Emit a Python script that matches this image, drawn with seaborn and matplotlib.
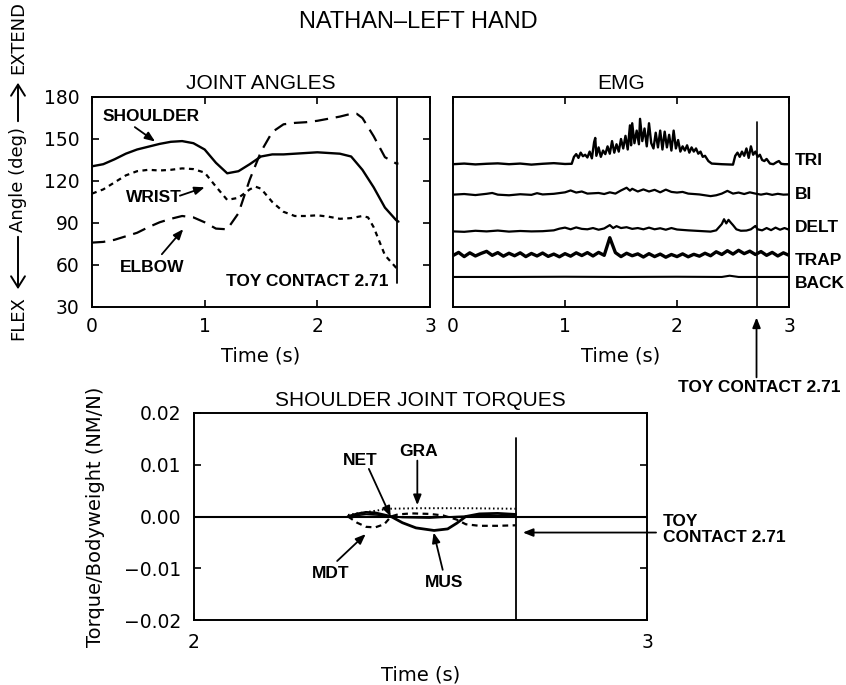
import numpy as np
import pandas as pd
import matplotlib
matplotlib.use("Agg")
import matplotlib.pyplot as plt
import seaborn as sns

# ---------------- joint angles (deg) ----------------
shoulder_time = [0.0, 0.1, 0.2, 0.3, 0.4, 0.5, 0.6, 0.7, 0.8, 0.9, 1.0, 1.1, 1.2, 1.3,
                 1.4, 1.5, 1.6, 1.7, 1.8, 1.9, 2.0, 2.1, 2.2, 2.3, 2.4, 2.5, 2.6, 2.7, 2.72]
shoulder_deg = [130.5, 132, 135.5, 139.5, 142.5, 144.5, 146.5, 148, 148.5, 147, 142.5, 133,
                125.5, 127, 132, 137.5, 139, 139, 139.5, 140, 140.5, 140, 139.5, 137.5, 128,
                115.5, 101, 92, 91]

wrist_time = [0.0, 0.1, 0.2, 0.3, 0.4, 0.5, 0.6, 0.7, 0.8, 0.9, 1.0, 1.1, 1.2, 1.3, 1.4,
              1.45, 1.5, 1.6, 1.7, 1.8, 1.9, 2.0, 2.1, 2.2, 2.3, 2.4, 2.45, 2.5, 2.6, 2.7, 2.72]
wrist_deg = [111, 114, 119, 124, 127, 128, 127.5, 128, 129, 128.5, 126, 116, 106.5, 108, 114,
             116, 114.5, 105, 98, 95, 95, 95.5, 94.5, 93, 93.5, 95, 94, 87, 67, 58, 57]

elbow_time = [0.0, 0.1, 0.2, 0.3, 0.4, 0.5, 0.6, 0.7, 0.8, 0.9, 1.0, 1.1, 1.2, 1.3, 1.4,
              1.5, 1.6, 1.7, 1.8, 1.9, 2.0, 2.1, 2.2, 2.3, 2.35, 2.4, 2.5, 2.6, 2.7, 2.72]
elbow_deg = [76, 76.5, 78, 80.5, 83, 87, 90.5, 93, 95, 94, 90.5, 86, 85.5, 97, 121, 141, 155,
             160.5, 161.5, 162, 163, 164.5, 166, 168, 168, 165, 152, 137, 132.5, 132.5]

toy_contact = 2.71

# ---------------- EMG traces (arbitrary offset units) ----------------
tri_time = [0.0, 0.1, 0.2, 0.3, 0.4, 0.5, 0.6, 0.7, 0.8, 0.9, 1.0, 1.06, 1.08, 1.10, 1.12,
            1.14, 1.16, 1.18, 1.20, 1.22, 1.24, 1.26, 1.27, 1.28, 1.30, 1.32, 1.34, 1.36,
            1.38, 1.40, 1.42, 1.44, 1.46, 1.48, 1.50, 1.52, 1.54, 1.56, 1.58, 1.59, 1.60,
            1.62, 1.64, 1.66, 1.67, 1.69, 1.71, 1.73, 1.75, 1.77, 1.79, 1.81, 1.83, 1.85,
            1.87, 1.89, 1.91, 1.93, 1.95, 1.97, 1.99, 2.01, 2.03, 2.05, 2.07, 2.09, 2.11,
            2.13, 2.15, 2.17, 2.19, 2.21, 2.23, 2.25, 2.28, 2.31, 2.4, 2.5, 2.52, 2.54,
            2.56, 2.58, 2.60, 2.62, 2.64, 2.66, 2.68, 2.70, 2.72, 2.74, 2.76, 2.78, 2.80,
            2.83, 2.86, 2.89, 2.91, 2.93, 2.96, 3.0]
tri_amp = [68.0, 68.3, 67.9, 68.2, 68.4, 68.0, 68.3, 67.8, 68.2, 68.5, 68.1, 68.2, 71.5, 72.8,
           71.0, 73.5, 71.8, 72.5, 71.2, 74.0, 70.8, 78.5, 80.5, 72.0, 76.0, 71.5, 74.5, 72.8,
           76.5, 73.0, 79.0, 73.5, 77.5, 74.0, 80.0, 75.5, 81.5, 75.0, 86.5, 77.0, 87.5,
           78.0, 84.0, 77.5, 89.6, 79.0, 85.0, 76.5, 87.5, 78.0, 75.5, 83.0, 76.0, 84.0,
           75.0, 83.5, 76.0, 82.0, 74.5, 84.0, 75.5, 79.5, 74.0, 76.5, 74.5, 77.0, 73.5,
           76.0, 74.0, 75.5, 73.0, 74.0, 71.5, 72.0, 69.5, 68.3, 68.0, 67.8, 72.0, 73.5,
           71.5, 74.0, 72.0, 75.5, 71.0, 76.5, 72.5, 74.0, 71.5, 72.5, 70.0, 69.5, 70.5,
           68.3, 68.0, 69.0, 69.5, 68.2, 68.0, 68.0]

bi_time = [0.0, 0.1, 0.2, 0.3, 0.35, 0.4, 0.5, 0.6, 0.7, 0.75, 0.8, 0.9, 1.0, 1.05, 1.1,
           1.15, 1.2, 1.3, 1.35, 1.4, 1.45, 1.5, 1.55, 1.58, 1.6, 1.65, 1.7, 1.75, 1.8,
           1.85, 1.9, 1.95, 2.0, 2.05, 2.1, 2.2, 2.3, 2.35, 2.4, 2.45, 2.5, 2.55, 2.6, 2.65,
           2.7, 2.75, 2.8, 2.85, 2.9, 2.95, 3.0]
bi_amp = [53.5, 53.8, 53.3, 53.9, 54.3, 53.5, 53.2, 53.7, 53.4, 54.2, 53.6, 53.9, 54.6, 55.5,
          54.5, 55.0, 54.0, 54.3, 53.8, 54.6, 54.0, 55.5, 56.8, 55.4, 56.3, 55.0, 56.0, 55.0,
          55.8, 54.6, 55.9, 54.8, 54.5, 54.8, 54.0, 53.6, 52.8, 53.2, 54.0, 55.3, 54.0, 54.5,
          53.8, 54.6, 54.0, 53.5, 54.0, 53.4, 53.9, 53.5, 53.6]

delt_time = [0.0, 0.1, 0.2, 0.3, 0.4, 0.5, 0.6, 0.7, 0.8, 0.9, 0.95, 1.0, 1.05, 1.1, 1.15,
             1.2, 1.25, 1.3, 1.35, 1.4, 1.43, 1.46, 1.5, 1.55, 1.6, 1.65, 1.7, 1.75, 1.8,
             1.85, 1.9, 1.95, 2.0, 2.1, 2.2, 2.3, 2.35, 2.4, 2.42, 2.44, 2.46, 2.48, 2.5,
             2.53, 2.57, 2.62, 2.66, 2.7, 2.72, 2.76, 2.8, 2.84, 2.88, 2.92, 2.96, 3.0]
delt_amp = [36.0, 35.8, 36.3, 36.0, 36.4, 35.9, 36.2, 36.0, 36.1, 36.5, 37.3, 37.8, 37.0,
            37.9, 37.2, 37.0, 37.6, 36.8, 37.4, 39.0, 37.6, 38.5, 37.6, 38.0, 37.2, 37.6,
            37.0, 37.8, 37.0, 37.5, 36.8, 37.6, 36.9, 36.5, 36.2, 35.9, 36.5, 39.5, 41.8,
            39.8, 41.5, 40.2, 39.0, 37.0, 36.3, 36.4, 37.0, 38.6, 37.0, 36.5, 37.6, 36.6,
            37.8, 36.8, 37.6, 36.8]

trap_time = list(np.round(np.linspace(0.0, 3.0, 61), 2))
trap_amp = [24.5, 26.0, 24.0, 25.8, 24.3, 25.5, 26.5, 24.6, 25.9, 24.2, 25.6, 24.4, 25.8,
            24.0, 25.5, 24.3, 25.7, 24.1, 25.2, 23.9, 25.4, 24.2, 25.8, 24.5, 25.9, 24.3,
            26.0, 24.6, 33.0, 25.9, 24.0, 25.6, 24.4, 25.3, 23.8, 25.4, 24.0, 25.2, 23.7,
            25.0, 24.0, 25.3, 23.9, 25.1, 24.2, 25.6, 24.4, 26.3, 25.0, 26.8, 25.2, 27.0,
            25.4, 26.6, 25.0, 26.4, 24.6, 26.0, 24.3, 25.8, 24.6]

back_time = [0.0, 0.5, 1.0, 1.5, 2.0, 2.4, 2.47, 2.55, 3.0]
back_amp = [14.3, 14.3, 14.4, 14.3, 14.4, 14.3, 14.9, 14.3, 14.3]

emg_channels = ["TRI", "BI", "DELT", "TRAP", "BACK"]
emg_label_y = [69.7, 53.8, 37.9, 22.0, 11.3]

# ---------------- shoulder joint torques (NM/N) ----------------
gra_time = [2.34, 2.36, 2.40, 2.43, 2.50, 2.60, 2.71]
gra_torque = [0.0003, 0.0006, 0.0011, 0.0015, 0.0016, 0.0016, 0.0015]

mdt_time = [2.34, 2.36, 2.38, 2.40, 2.42, 2.435, 2.45, 2.48, 2.52, 2.55, 2.58, 2.60,
            2.63, 2.67, 2.71]
mdt_torque = [0.0, -0.0012, -0.0020, -0.0021, -0.0015, 0.0, 0.0004, 0.0006, 0.0005, 0.0002,
              -0.0006, -0.0015, -0.0018, -0.0018, -0.0017]

mus_time = [2.34, 2.36, 2.38, 2.40, 2.42, 2.435, 2.46, 2.49, 2.53, 2.56, 2.58, 2.60, 2.63,
            2.67, 2.71]
mus_torque = [0.0, 0.0005, 0.0008, 0.0007, 0.0003, 0.0, -0.0012, -0.0022, -0.0027, -0.0024,
              -0.0013, 0.0, 0.0005, 0.0006, 0.0004]

net_time = [2.34, 2.38, 2.42, 2.46, 2.52, 2.58, 2.64, 2.71]
net_torque = [0.0, 0.0004, 0.0002, -0.0002, -0.0003, 0.0, 0.0002, 0.0001]

# ---------------- styling ----------------
sns.set_theme(style="ticks")
plt.rcParams.update({
    "font.family": ["DejaVu Sans"],
    "axes.linewidth": 1.4,
    "axes.edgecolor": "black",
    "xtick.direction": "in",
    "ytick.direction": "in",
    "xtick.top": True,
    "ytick.right": True,
    "xtick.major.size": 5,
    "ytick.major.size": 5,
    "xtick.major.width": 1.2,
    "ytick.major.width": 1.2,
    "xtick.labelsize": 13.5,
    "ytick.labelsize": 13.5,
    "xtick.color": "black",
    "ytick.color": "black",
    "text.color": "black",
    "axes.labelcolor": "black",
})

TITLE_FONT = dict(family=["Liberation Sans"], fontsize=15, fontweight="normal")
TAG_FONT = dict(family=["Liberation Sans"], fontsize=12.5, fontweight="bold")
ARROW = dict(arrowstyle="-|>,head_length=0.5,head_width=0.2", color="black", lw=1.3,
             shrinkA=0, shrinkB=0)

W, H = 846, 685
fig = plt.figure(figsize=(W / 100, H / 100), dpi=100)


def box(left, right, top, bottom):
    return [left / W, 1 - bottom / H, (right - left) / W, (bottom - top) / H]


def fig_xy(px, py):
    return (px / W, 1 - py / H)


ax_ang = fig.add_axes(box(92, 430, 97, 307))
ax_emg = fig.add_axes(box(453, 789, 97, 307))
ax_trq = fig.add_axes(box(194, 647, 413, 620))

# ---- joint angles ----
sns.lineplot(x=shoulder_time, y=shoulder_deg, ax=ax_ang, color="black", lw=1.7,
             estimator=None)
sns.lineplot(x=wrist_time, y=wrist_deg, ax=ax_ang, color="black", lw=1.6,
             linestyle=(0, (2.2, 2.0)), estimator=None)
sns.lineplot(x=elbow_time, y=elbow_deg, ax=ax_ang, color="black", lw=1.6,
             linestyle=(0, (6.0, 3.5)), estimator=None)
ax_ang.plot([toy_contact, toy_contact], [47, 180], color="black", lw=1.3)
ax_ang.set_xlim(0, 3)
ax_ang.set_ylim(30, 180)
ax_ang.set_xticks([0, 1, 2, 3])
ax_ang.set_yticks([30, 60, 90, 120, 150, 180])
ax_ang.tick_params(axis="y", pad=9)
ax_ang.tick_params(axis="x", pad=7)
ax_ang.set_title("JOINT ANGLES", pad=6, **TITLE_FONT)
ax_ang.set_xlabel("Time (s)", fontsize=14, labelpad=8)
ax_ang.set_ylabel("")

ax_ang.annotate("", xy=(0.56, 148.2), xytext=(0.38, 158.5), arrowprops=ARROW)
ax_ang.text(0.09, 166, "SHOULDER", ha="left", va="center", **TAG_FONT)
ax_ang.annotate("", xy=(1.0, 115.5), xytext=(0.78, 109.5), arrowprops=ARROW)
ax_ang.text(0.30, 108.3, "WRIST", ha="left", va="center", **TAG_FONT)
ax_ang.annotate("", xy=(0.81, 85.6), xytext=(0.62, 67.7), arrowprops=ARROW)
ax_ang.text(0.25, 58, "ELBOW", ha="left", va="center", **TAG_FONT)
ax_ang.text(2.63, 48, "TOY CONTACT 2.71", ha="right", va="center", **TAG_FONT)

# vertical axis caption: FLEX <-- Angle (deg) --> EXTEND
cap_x = 18
for label, py in [("FLEX", 318), ("Angle (deg)", 179), ("EXTEND", 38)]:
    fig.text(*fig_xy(cap_x, py), label, rotation=90, ha="center", va="center",
             fontsize=13)
for start, end in [(234, 292), (124, 80)]:
    fig.add_artist(matplotlib.patches.FancyArrowPatch(
        fig_xy(cap_x, start), fig_xy(cap_x, end), transform=fig.transFigure,
        arrowstyle="->,head_length=0.4,head_width=0.25", color="black", lw=1.4,
        mutation_scale=20))

# ---- EMG ----
for t, a, w in [(tri_time, tri_amp, 1.7), (bi_time, bi_amp, 1.6), (delt_time, delt_amp, 1.6),
                (trap_time, trap_amp, 2.4), (back_time, back_amp, 1.5)]:
    sns.lineplot(x=t, y=a, ax=ax_emg, color="black", lw=w, estimator=None)
ax_emg.plot([toy_contact, toy_contact], [0, 88], color="black", lw=1.2)
ax_emg.set_xlim(0, 3)
ax_emg.set_ylim(0, 100)
ax_emg.set_xticks([0, 1, 2, 3])
ax_emg.set_yticks([])
ax_emg.tick_params(axis="x", pad=7)
ax_emg.set_title("EMG", pad=6, **TITLE_FONT)
ax_emg.set_xlabel("Time (s)", fontsize=14, labelpad=8)
ax_emg.set_ylabel("")
for name, yv in zip(emg_channels, emg_label_y):
    ax_emg.text(3.05, yv, name, ha="left", va="center", clip_on=False, **TAG_FONT)
ax_emg.annotate("", xy=(toy_contact, -0.05), xytext=(toy_contact, -0.335),
                xycoords=("data", "axes fraction"), textcoords=("data", "axes fraction"),
                arrowprops=ARROW, annotation_clip=False)
ax_emg.text(2.73, -0.385, "TOY CONTACT 2.71", ha="center", va="center",
            transform=ax_emg.get_xaxis_transform(), clip_on=False, **TAG_FONT)

# ---- shoulder torques ----
ax_trq.axhline(0.0, color="black", lw=1.5)
sns.lineplot(x=net_time, y=net_torque, ax=ax_trq, color="black", lw=1.2, estimator=None)
sns.lineplot(x=gra_time, y=gra_torque, ax=ax_trq, color="black", lw=1.4,
             linestyle=(0, (0.8, 1.4)), estimator=None)
sns.lineplot(x=mdt_time, y=mdt_torque, ax=ax_trq, color="black", lw=1.6,
             linestyle=(0, (2.6, 2.0)), estimator=None)
sns.lineplot(x=mus_time, y=mus_torque, ax=ax_trq, color="black", lw=2.0, estimator=None)
ax_trq.plot([toy_contact, toy_contact], [-0.02, 0.0152], color="black", lw=1.3)
ax_trq.set_xlim(2, 3)
ax_trq.set_ylim(-0.02, 0.02)
ax_trq.set_xticks([2, 3])
ax_trq.set_yticks([-0.02, -0.01, 0.0, 0.01, 0.02])
ax_trq.yaxis.set_major_formatter(matplotlib.ticker.FuncFormatter(
    lambda v, _: f"{v:.2f}".replace("-", "\u2212") if abs(v) > 1e-9 else "0.00"))
ax_trq.tick_params(axis="y", pad=9)
ax_trq.tick_params(axis="x", pad=9)
ax_trq.set_title("SHOULDER JOINT TORQUES", pad=5, **TITLE_FONT)
ax_trq.set_xlabel("Time (s)", fontsize=14, labelpad=10)
ax_trq.set_ylabel("Torque/Bodyweight (NM/N)", fontsize=14, labelpad=14)

ax_trq.annotate("", xy=(2.434, 0.0), xytext=(2.386, 0.0092), arrowprops=ARROW)
ax_trq.text(2.366, 0.0108, "NET", ha="center", va="center", **TAG_FONT)
ax_trq.annotate("", xy=(2.493, 0.0022), xytext=(2.493, 0.0108), arrowprops=ARROW)
ax_trq.text(2.495, 0.0125, "GRA", ha="center", va="center", **TAG_FONT)
ax_trq.annotate("", xy=(2.379, -0.0034), xytext=(2.316, -0.0086), arrowprops=ARROW)
ax_trq.text(2.302, -0.011, "MDT", ha="center", va="center", **TAG_FONT)
ax_trq.annotate("", xy=(2.529, -0.0031), xytext=(2.549, -0.0103), arrowprops=ARROW)
ax_trq.text(2.552, -0.0127, "MUS", ha="center", va="center", **TAG_FONT)
ax_trq.annotate("", xy=(2.726, -0.0031), xytext=(3.02, -0.0031), arrowprops=ARROW,
                annotation_clip=False)
ax_trq.text(3.035, -0.0025, "TOY\nCONTACT 2.71", ha="left", va="center",
            linespacing=1.1, clip_on=False, **TAG_FONT)

fig.text(418 / W, 1 - 22 / H, "NATHAN\u2013LEFT HAND", ha="center", va="center",
         family=["Liberation Sans"], fontsize=17)

fig.savefig("out.png", dpi=100)
